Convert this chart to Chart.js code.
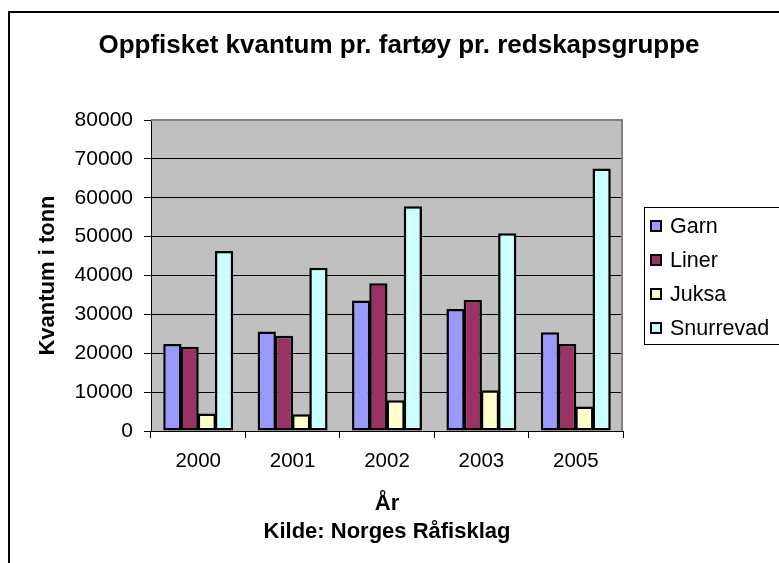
<!DOCTYPE html>
<html>
<head>
<meta charset="utf-8">
<script src="https://cdn.jsdelivr.net/npm/chart.js@4.4.0/dist/chart.umd.min.js"></script>
<style>
    html, body { margin: 0; padding: 0; background: #fff; }
    canvas { display: block; }
</style>
</head>
<body>
<canvas id="fiskChart" width="779" height="563"></canvas>
<script>
// Data
const years = ['2000', '2001', '2002', '2003', '2005'];
const garn = [22400, 25600, 33600, 31400, 25400];
const liner = [21700, 24500, 38000, 33700, 22400];
const juksa = [4500, 4300, 7900, 10500, 6300];
const snurrevad = [46300, 42000, 57800, 50900, 67500];
const yTicks = [0, 10000, 20000, 30000, 40000, 50000, 60000, 70000, 80000];

const FONT = '"Liberation Sans", Arial, sans-serif';

document.addEventListener('DOMContentLoaded', function() {
    // Grey plot area, frame, title and legend box (Excel look)
    const excelLook = {
        id: 'excelLook',
        beforeDraw(chart) {
            const { ctx, chartArea: a } = chart;
            ctx.save();
            ctx.fillStyle = '#C0C0C0';
            ctx.fillRect(a.left, a.top, a.right - a.left, a.bottom - a.top);
            ctx.restore();
        },
        beforeDatasetsDraw(chart) {
            const { ctx, chartArea: a } = chart;
            ctx.save();
            ctx.strokeStyle = '#808080';
            ctx.lineWidth = 2;
            ctx.beginPath();
            ctx.moveTo(a.left, a.top);
            ctx.lineTo(a.right - 1, a.top);
            ctx.lineTo(a.right - 1, a.bottom);
            ctx.stroke();
            ctx.restore();
        },
        afterDraw(chart) {
            const ctx = chart.ctx;
            ctx.save();
            // outer frame
            ctx.strokeStyle = '#000';
            ctx.lineWidth = 2;
            ctx.beginPath();
            ctx.moveTo(9, chart.height);
            ctx.lineTo(9, 12);
            ctx.lineTo(chart.width, 12);
            ctx.stroke();

            // title
            ctx.fillStyle = '#000';
            ctx.font = 'bold 26px ' + FONT;
            ctx.textAlign = 'center';
            ctx.textBaseline = 'middle';
            ctx.fillText('Oppfisket kvantum pr. fartøy pr. redskapsgruppe', 399, 46);

            // legend
            ctx.lineWidth = 1;
            ctx.strokeRect(644.5, 207.5, 150, 137);
            ctx.font = '21.5px ' + FONT;
            ctx.textAlign = 'left';
            chart.data.datasets.forEach((ds, i) => {
                const cy = 226 + i * 34;
                ctx.fillStyle = ds.backgroundColor;
                ctx.fillRect(651, cy - 5, 10, 10);
                ctx.lineWidth = 2;
                ctx.strokeStyle = '#000';
                ctx.strokeRect(651, cy - 5, 10, 10);
                ctx.fillStyle = '#000';
                ctx.fillText(ds.label, 670, cy + 1);
            });
            ctx.restore();
        }
    };

    // bars slightly wider than their slot so neighbours share a black edge
    const barStyle = {
        borderColor: '#000',
        borderWidth: 2.5,
        borderSkipped: false,
        categoryPercentage: 0.73,
        barPercentage: 1.06
    };

    const ctx = document.getElementById('fiskChart').getContext('2d');
    new Chart(ctx, {
        type: 'bar',
        data: {
            labels: years,
            datasets: [
                { label: 'Garn', data: garn, backgroundColor: '#9999FF', ...barStyle },
                { label: 'Liner', data: liner, backgroundColor: '#993366', ...barStyle },
                { label: 'Juksa', data: juksa, backgroundColor: '#FFFFCC', ...barStyle },
                { label: 'Snurrevad', data: snurrevad, backgroundColor: '#CCFFFF', ...barStyle }
            ]
        },
        options: {
            responsive: false,
            animation: false,
            devicePixelRatio: 1,
            layout: { padding: { left: 10, top: 120, right: 156, bottom: 0 } },
            plugins: {
                legend: { display: false },
                title: { display: false },
                tooltip: { enabled: false }
            },
            scales: {
                x: {
                    afterFit: scale => { scale.height = 132; },
                    border: { color: '#000', width: 1 },
                    grid: { display: true, drawOnChartArea: false, color: '#000', tickLength: 7 },
                    ticks: { color: '#000', padding: 11, font: { family: FONT, size: 20.5 } },
                    title: {
                        display: true,
                        text: ['År', 'Kilde: Norges Råfisklag'],
                        color: '#000',
                        font: { family: FONT, size: 22, weight: 'bold', lineHeight: 28 / 22 },
                        padding: { top: 0, bottom: 17 }
                    }
                },
                y: {
                    min: 0,
                    max: 80000,
                    afterFit: scale => { scale.width = 141; },
                    afterBuildTicks: scale => { scale.ticks = yTicks.map(v => ({ value: v })); },
                    border: { color: '#000', width: 1 },
                    grid: { color: '#000', lineWidth: 1, tickLength: 7 },
                    ticks: {
                        color: '#000',
                        padding: 11,
                        font: { family: FONT, size: 21 },
                        callback: v => String(v)
                    },
                    title: {
                        display: true,
                        text: 'Kvantum i tonn',
                        color: '#000',
                        font: { family: FONT, size: 22, weight: 'bold' },
                        padding: { top: 25, bottom: 0 }
                    }
                }
            }
        },
        plugins: [excelLook]
    });
});
</script>
</body>
</html>
